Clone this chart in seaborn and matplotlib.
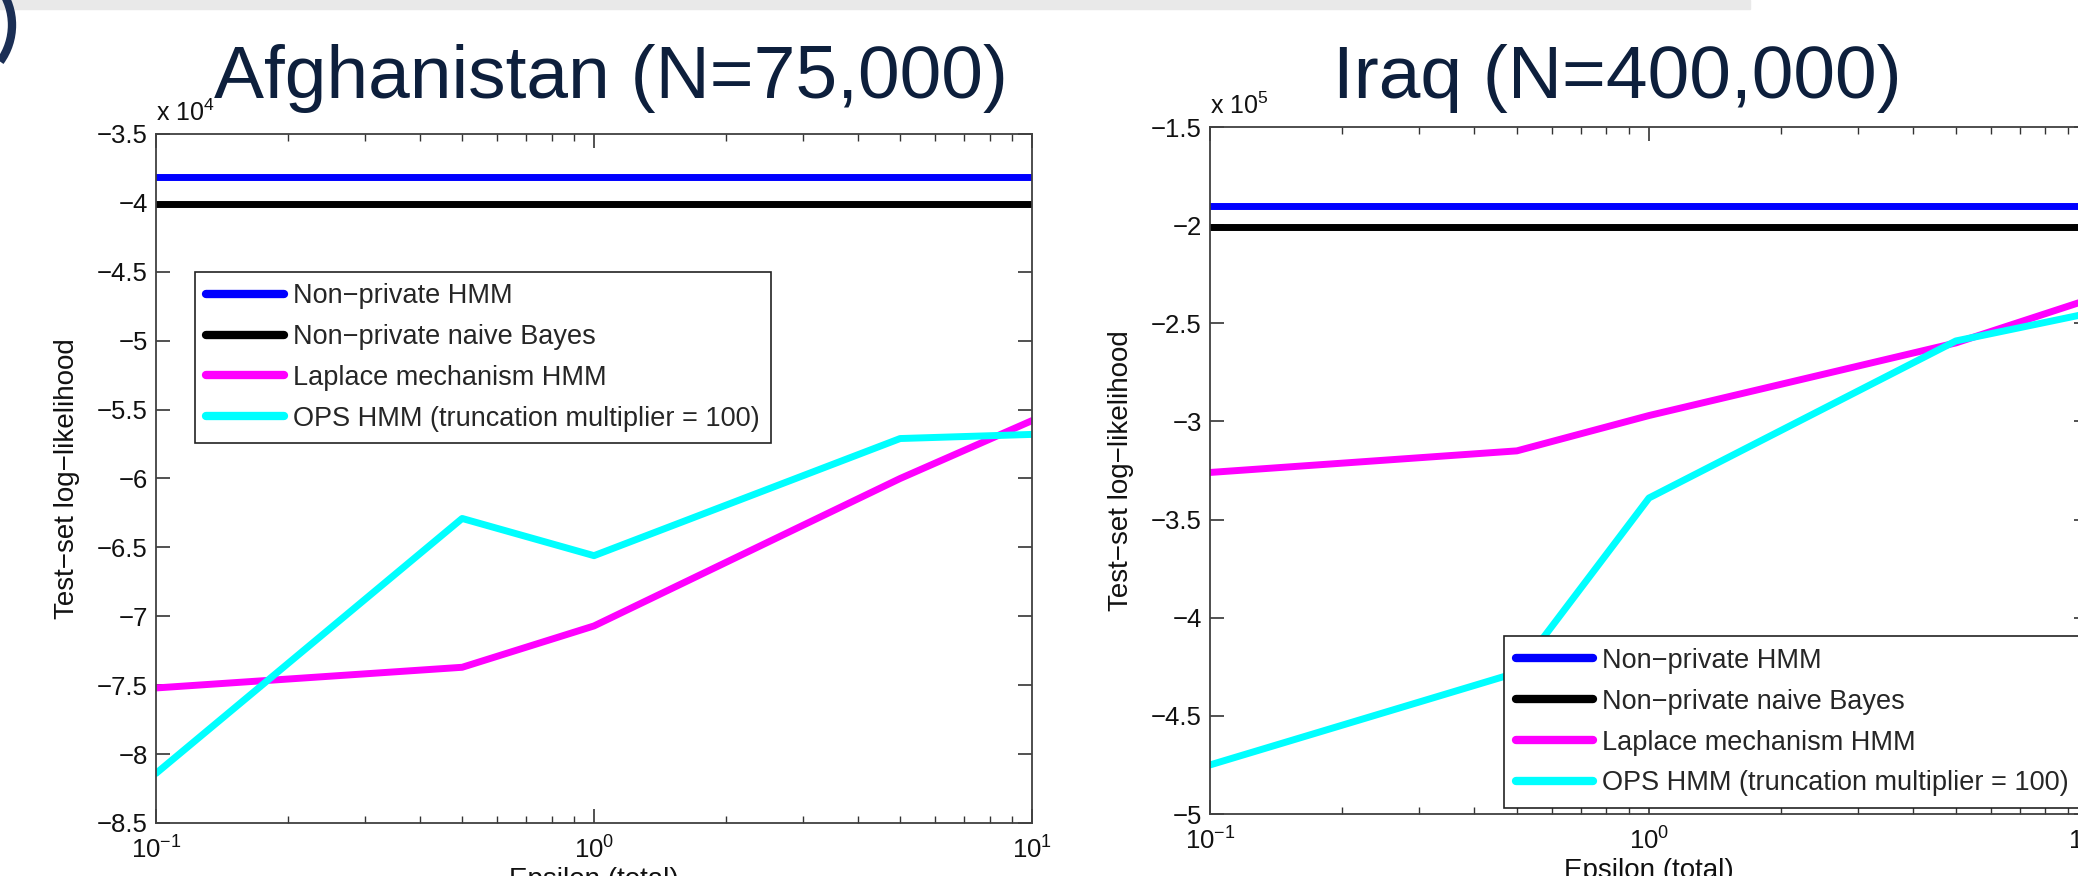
import matplotlib
matplotlib.use("Agg")
import matplotlib.pyplot as plt
from matplotlib import font_manager
from matplotlib.patches import Rectangle, Arc
from matplotlib.ticker import FixedLocator, FuncFormatter, LogLocator, NullFormatter
import seaborn as sns
import pandas as pd
import numpy as np

# --- data ---
epsilon = [0.1, 0.5, 1, 5, 10]
methods = ["Non\u2212private HMM", "Non\u2212private naive Bayes",
           "Laplace mechanism HMM", "OPS HMM (truncation multiplier = 100)"]
colors = ["#0000ff", "#000000", "#ff00ff", "#00ffff"]

# Afghanistan, values in units of 1e4
afg_hmm = [-3.81, -3.81, -3.81, -3.81, -3.81]
afg_nb = [-4.01, -4.01, -4.01, -4.01, -4.01]
afg_laplace = [-7.52, -7.37, -7.07, -6.00, -5.58]
afg_ops = [-8.14, -6.29, -6.56, -5.71, -5.68]
afg_yticks = [-3.5, -4, -4.5, -5, -5.5, -6, -6.5, -7, -7.5, -8, -8.5]

# Iraq, values in units of 1e5
irq_hmm = [-1.90, -1.90, -1.90, -1.90, -1.90]
irq_nb = [-2.01, -2.01, -2.01, -2.01, -2.01]
irq_laplace = [-3.26, -3.15, -2.97, -2.60, -2.38]
irq_ops = [-4.75, -4.28, -3.39, -2.59, -2.45]
irq_yticks = [-1.5, -2, -2.5, -3, -3.5, -4, -4.5, -5]


def make_df(series):
    rows = []
    for m, vals in zip(methods, series):
        for e, v in zip(epsilon, vals):
            rows.append({"epsilon": e, "loglik": v, "method": m})
    return pd.DataFrame(rows)


df_afg = make_df([afg_hmm, afg_nb, afg_laplace, afg_ops])
df_irq = make_df([irq_hmm, irq_nb, irq_laplace, irq_ops])

sns.set_theme(style="white")
plt.rcParams["font.family"] = ["Liberation Sans", "DejaVu Sans"]
plt.rcParams["mathtext.default"] = "regular"

names = {f.name for f in font_manager.fontManager.ttflist}
if "Liberation Sans Narrow" in names:
    title_family, title_size = "Liberation Sans Narrow", 64
else:
    title_family, title_size = "Liberation Sans", 54

W, H = 2078, 876
fig = plt.figure(figsize=(W / 100, H / 100), dpi=100)
fig.patch.set_facecolor("white")

# slide decoration: grey strip at top and navy swoosh in the corner
fig.patches.append(Rectangle((0, 1 - 9 / H), 1750 / W, 9 / H, transform=fig.transFigure,
                             color="#e9e9e9", zorder=0))
fig.patches.append(Arc((-50 / W, 1 - 25 / H), 124 / W, 124 / H, theta1=-60, theta2=60,
                       transform=fig.transFigure, color="#1b2f55", lw=6, zorder=1))

ax1 = fig.add_axes([156 / W, 1 - 823 / H, 876 / W, 689 / H])
ax2 = fig.add_axes([1210 / W, 1 - 814 / H, 878 / W, 687 / H])

palette = dict(zip(methods, colors))
fmt = FuncFormatter(lambda v, p: f"{v:g}".replace("-", "\u2212"))

panels = [
    (ax1, df_afg, afg_yticks, "4", "upper left", (0.0445, 0.80)),
    (ax2, df_irq, irq_yticks, "5", "lower left", (0.335, 0.009)),
]

for ax, df, yticks, expo, loc, anchor in panels:
    sns.lineplot(data=df, x="epsilon", y="loglik", hue="method", hue_order=methods,
                 palette=palette, linewidth=5, ax=ax, sort=False)
    ax.set_xscale("log")
    ax.set_xlim(0.1, 10)
    ax.set_ylim(min(yticks), max(yticks))
    ax.yaxis.set_major_locator(FixedLocator(yticks))
    ax.yaxis.set_major_formatter(fmt)
    ax.xaxis.set_minor_locator(LogLocator(base=10, subs=np.arange(2, 10), numticks=20))
    ax.xaxis.set_minor_formatter(NullFormatter())
    ax.tick_params(which="both", direction="in", top=True, right=True, bottom=True, left=True,
                   color="#333333", labelcolor="#111111", labelsize=18.5)
    ax.tick_params(which="major", length=10, width=1.2, pad=6)
    ax.tick_params(axis="x", which="major", pad=10)
    ax.tick_params(which="minor", length=5, width=1.0)
    for s in ax.spines.values():
        s.set_visible(True)
        s.set_color("#404040")
        s.set_linewidth(1.3)
    ax.set_xlabel("Epsilon (total)", fontsize=20, color="#111111", labelpad=2)
    ax.set_ylabel("Test\u2212set log\u2212likelihood", fontsize=20, color="#111111", labelpad=12)
    ax.text(0.0, 1.012, f"x 10$^{expo}$", transform=ax.transAxes, ha="left", va="bottom",
            fontsize=18, color="#111111")

    handles, labels = ax.get_legend_handles_labels()
    leg = ax.legend(handles, labels, loc=loc, bbox_to_anchor=anchor, fontsize=19.5,
                    frameon=True, fancybox=False, framealpha=1, edgecolor="#222222",
                    handlelength=2.85, handletextpad=0.35, borderpad=0.42,
                    labelspacing=0.55, borderaxespad=0)
    leg.get_frame().set_linewidth(1.2)
    for h in leg.get_lines():
        h.set_linewidth(6)

fig.text(611 / W, 1 - 98 / H, "Afghanistan (N=75,000)", ha="center", va="baseline",
         fontsize=title_size, family=[title_family, "Liberation Sans"], color="#0d1f3c")
fig.text(1617 / W, 1 - 98 / H, "Iraq (N=400,000)", ha="center", va="baseline",
         fontsize=title_size, family=[title_family, "Liberation Sans"], color="#0d1f3c")

fig.savefig("out.png", dpi=100)
